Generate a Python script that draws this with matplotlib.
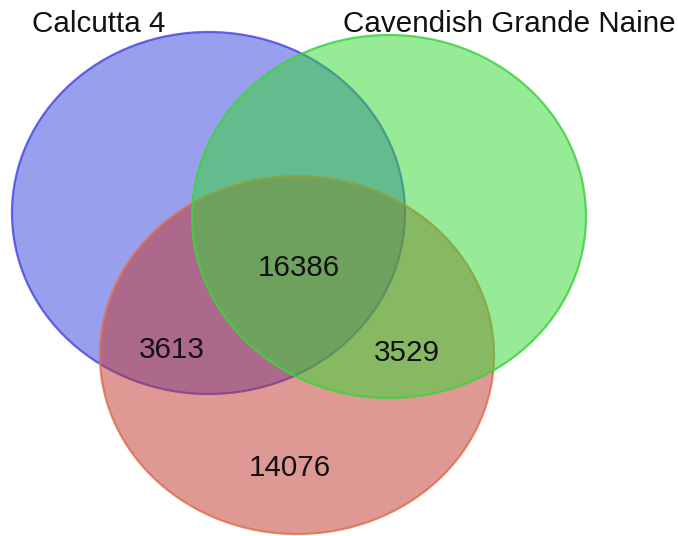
import matplotlib.pyplot as plt
from matplotlib.patches import Ellipse

plt.rcParams['font.family'] = ['Liberation Sans', 'DejaVu Sans']

# set names and region counts
set_names = ['Calcutta 4', 'Cavendish Grande Naine']
region_names = ['all three', 'Calcutta 4 & third', 'Cavendish & third', 'third only']
region_counts = [16386, 3613, 3529, 14076]

# circle layout in pixel coordinates (cx, cy, w, h), drawn in this order: blue, red, green
circles = [(208.5, 213, 393, 362), (297, 355, 394, 358), (389, 216.5, 394, 363)]
fills = ['#3341dd', '#c1352d', '#31d931']
edges = ['#4a4ae6', '#e0704f', '#3fd23f']
# text positions (center x, baseline y)
name_pos = [(99, 32), (509, 32)]
count_pos = [(299, 276), (172, 358), (407, 361), (290, 476)]

fig = plt.figure(figsize=(6.78, 5.36), dpi=100)
ax = fig.add_axes([0, 0, 1, 1])
ax.set_xlim(0, 678)
ax.set_ylim(536, 0)
ax.axis('off')

for (cx, cy, w, h), fc, ec in zip(circles, fills, edges):
	ax.add_patch(Ellipse((cx, cy), w, h, facecolor=fc, alpha=0.5, edgecolor='none'))
	ax.add_patch(Ellipse((cx, cy), w, h, facecolor='none', edgecolor=ec, lw=1.6, alpha=0.85))

for name, (x, y) in zip(set_names, name_pos):
	ax.text(x, y, name, fontsize=21.3, ha='center', va='baseline', color='#111111')

for n, (x, y) in zip(region_counts, count_pos):
	ax.text(x, y, str(n), fontsize=21.3, ha='center', va='baseline', color='#111111')

fig.savefig('out.png', dpi=100)
